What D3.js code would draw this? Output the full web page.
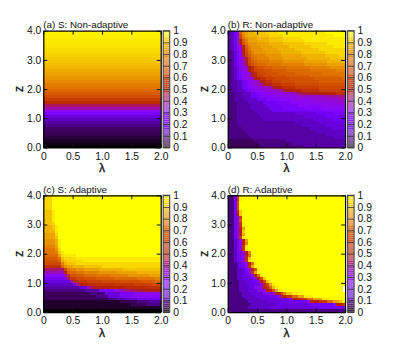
<!DOCTYPE html>
<html><head><meta charset="utf-8">
<script src="https://cdn.jsdelivr.net/npm/d3@7"></script>
<style>html,body{margin:0;padding:0;background:#fff}svg{display:block}text{font-family:"Liberation Sans",Arial,sans-serif;fill:#111}</style>
</head><body><svg id="c" width="403" height="346"></svg>
<script>
const titles = ["(a) S: Non-adaptive","(b) R: Non-adaptive","(c) S: Adaptive","(d) R: Adaptive"];
const xTicks = [0,0.5,1,1.5,2];
const xTickLabels = ["0","0.5","1.0","1.5","2.0"];
const yTicks = [0,1,2,3,4];
const barTicks = [0,0.1,0.2,0.3,0.4,0.5,0.6,0.7,0.8,0.9,1];
const nCols = 40;
// rows run from z=4 (top) to z=0 (bottom)
const rowProfileA = [.985,.98,.975,.97,.965,.96,.955,.945,.935,.925,.915,.905,.89,.875,.86,.845,.83,.81,.79,.77,.74,.71,.67,.62,.55,.44,.38,.30,.24,.17,.14,.11,.09,.07,.06,.05,.035,.025,.015,0];
// run-length rows: first char = level (base 36, level/35 = value), remainder = number of cells
const rowsB = [
"41 51 71 a1 p1 t1 u1 v2 w4 x4 y16 z7","41 51 71 a1 n1 s1 u1 v3 w4 x5 y17 z4","41 51 71 a1 m1 r1 t1 u3 v4 w5 x6 y15",
"41 51 71 b1 i1 p1 s1 u3 v4 w5 x7 y14","41 51 71 b1 i1 o1 r1 t3 u4 v5 w7 x8 y6","41 51 71 a1 c1 i1 p1 s1 t3 u4 v6 w7 x8 y4",
"41 51 71 a1 c1 i1 o1 r1 t4 u5 v6 w8 x9","31 41 61 81 b1 h1 n1 q1 s1 t4 u5 v7 w8 x7","31 41 61 81 b1 g1 m1 p1 r1 s4 t5 u7 v8 w5 x2",
"31 41 61 81 a1 c1 i1 n1 q1 r1 s4 t5 u8 v8 w5","31 41 61 81 a1 c1 h1 n1 p1 q1 r4 s5 t7 u8 v6","31 41 61 81 a1 c1 g1 m1 o1 p1 q3 r5 s8 t8 u6",
"31 41 51 71 91 b1 c1 h1 j1 n1 o2 p3 q5 r8 s7 t5","31 41 51 71 91 b1 c1 h1 j1 m1 n2 o3 p5 q8 r9 s3","31 41 51 71 91 a1 b1 c1 h1 j1 m1 n2 o4 p6 q9 r8",
"31 41 51 71 81 a1 b1 c1 h1 i1 m2 n3 o5 p8 q10 r2","31 41 51 71 81 a1 b1 c1 d1 h1 i1 k2 m3 n5 o8 p10 q1","31 42 52 71 81 a1 b1 c1 d1 h1 i1 k2 m3 n5 o8 p9",
"31 42 52 71 81 a1 b1 c1 d2 h1 i2 k3 m5 n8 o9","31 42 52 71 81 a2 b2 c2 d2 g1 h1 i2 k4 m8 n9","31 42 53 71 81 a2 b3 c3 d2 e1 g1 h2 i3 k6 m9",
"32 43 53 72 92 a3 b4 c4 e1 f1 g2 h5 i5 k3","32 43 53 73 93 a4 b6 c9 d3 e4","32 44 54 73 94 a5 b8 c8 d2","33 44 55 74 85 a6 b10 c3",
"33 45 55 75 86 a7 b9","33 45 56 75 87 96 a8","33 46 56 76 77 86 96","33 47 57 56 67 76 84","33 48 58 57 67 77","33 49 59 58 67 74",
"33 410 410 58 69","34 410 411 58 67","35 411 412 58 64","36 412 412 510","37 413 413 57","38 414 414 54","29 311 413 47","210 312 418","211 315 414"];
const rowsC = [
"x3 z37","x3 z37","x3 z37","x3 z37","x3 z37","w3 y1 z36","w3 y1 z36","w3 y1 z36","w3 y1 z36","w3 x1 z36",
"v3 w1 y1 z35","v3 w1 y1 z35","v4 y1 z35","u4 x1 z35","u4 w1 z35","t4 v1 y1 z34","t4 v1 y1 z34","s4 u1 y1 z34","r4 t1 x1 z34","r4 s1 w1 y1 z33",
"q5 u1 x1 y4 z29","p5 r1 w1 x4 y29","o5 q1 v1 w1 x5 y27","n6 s1 v1 w3 x29","k6 q1 t1 u2 v4 w6 x20","f7 n1 r1 s2 t3 u5 v8 w13",
"d7 i1 p1 q2 r3 s5 t6 u7 v8","a7 d1 k1 o2 p3 q4 r5 s6 t7 u4","88 f1 l2 n3 o4 p6 q8 r6 s2","69 d1 j2 l3 m5 n6 o7 p5 q2",
"510 71 e1 i2 j4 k6 l7 m6 n3","412 63 c1 g2 h4 i6 j7 k5","314 45 85 c4 f3 g3 h6","216 35 65 85 a4 b5","218 34 64 84 a10",
"222 33 43 54 78","126 26 34 44","130 25 35","140","040"];
const rowsD = [
"32 81 o1 y1 z35","32 81 l1 y1 z35","32 81 o1 z36","32 81 n1 z36","32 81 o1 z36","32 81 k1 w1 z35","32 81 i1 w1 z35",
"32 71 a1 l1 z35","32 71 a1 o1 z35","32 71 a1 k1 y1 z34","32 71 a1 k1 y1 z34","32 71 a1 i1 u1 z34","32 71 a1 i1 w1 z34","32 71 a1 i1 u1 z34","32 71 a1 l1 y1 z34",
"32 51 81 b1 i1 u1 z33","32 51 81 b1 i1 s1 z33","32 51 81 b1 k1 y1 z33","32 51 81 b1 l1 y1 z33",
"32 51 71 81 b1 i1 s1 z32","32 51 71 81 b1 i1 q1 y1 z31","32 51 71 81 b1 k1 w1 z32","32 51 71 81 b1 l1 y1 z32",
"33 51 71 81 b1 i1 q1 y1 z30","33 51 71 81 b1 k1 u1 z31","33 52 61 81 b1 i1 o1 y1 z29","33 52 61 81 b1 k1 u1 z30",
"33 52 61 72 b1 i1 q1 y1 z28","33 52 62 72 b1 i1 o1 w1 z27","34 52 62 72 b1 i1 n1 w1 y1 z25","34 53 62 72 b1 i1 n1 u1 y1 z24",
"34 53 62 a2 b1 i1 k1 q1 w1 y1 z22","34 53 63 a2 b1 i2 o1 u1 y2 z20","35 53 64 a3 b1 i2 n1 s1 w2 y2 z16",
"35 54 65 73 a1 i2 l2 q2 u2 y3 z11","36 55 66 74 a1 i3 l2 q2 u3 y3 z5","37 56 68 76 a1 i3 l3 q2 u2 w1 y1",
"38 58 611 79 a1 i2 l1","37 57 615 711","340"];
const paletteStops = [0,.05,.1,.15,.2,.25,.3,.35,.4,.45,.5,.6,.7,.8,.9,1];
const paletteColors = ["#000000","#38004f","#510096","#6301ce","#7202f3","#8004ff","#8c07f3","#970bce","#a11096","#ab174f","#b42000","#c63700","#d55700","#e48300","#f2ba00","#ffff00"];

const decode = rows => rows.map(r => r.split(" ").flatMap(t =>
  d3.range(+t.slice(1)).map(() => parseInt(t[0],36)/35)));
const grids = [
  rowProfileA.map(v => d3.range(nCols).map(() => v)),
  decode(rowsB), decode(rowsC), decode(rowsD)
];
const color = d3.scaleLinear().domain(paletteStops).range(paletteColors);
const svg = d3.select("#c");
const lefts = [43.3,227.7,43.3,227.7], tops = [30.7,30.7,195.3,195.3];
const W = 117.4, H = 116.8;

grids.forEach((grid,p) => {
  const g = svg.append("g").attr("transform",`translate(${lefts[p]},${tops[p]})`);
  const x = d3.scaleLinear().domain([0,2]).range([0,W]);
  const y = d3.scaleLinear().domain([0,4]).range([H,0]);
  const cx = d3.scaleBand().domain(d3.range(nCols)).range([0,W]);
  const cy = d3.scaleBand().domain(d3.range(grid.length)).range([0,H]);
  g.selectAll("g.r").data(grid).join("g").attr("class","r")
   .attr("transform",(d,i)=>`translate(0,${cy(i)})`)
   .selectAll("rect").data(d=>d).join("rect")
   .attr("x",(d,i)=>cx(i)).attr("width",cx.bandwidth()+.4).attr("height",cy.bandwidth()+.4)
   .attr("fill",d=>color(d)).attr("shape-rendering","crispEdges");

  const style = a => { a.select(".domain").attr("stroke","#000").attr("stroke-width",1.2);
    a.selectAll("line").attr("stroke","#111").attr("stroke-width",1);
    a.selectAll("text").attr("font-size",10.3).attr("font-family","Liberation Sans").attr("fill","#111"); };
  g.append("g").attr("transform",`translate(0,${H})`)
    .call(d3.axisBottom(x).tickValues(xTicks).tickSizeInner(-4).tickSizeOuter(0).tickPadding(5).tickFormat((d,i)=>xTickLabels[i])).call(style);
  g.append("g").call(d3.axisTop(x).tickValues(xTicks).tickSizeInner(-4).tickSizeOuter(0).tickFormat("")).call(style);
  g.append("g").call(d3.axisLeft(y).tickValues(yTicks).tickSizeInner(-4).tickSizeOuter(0).tickPadding(2).tickFormat(d3.format(".1f"))).call(style);
  g.append("g").attr("transform",`translate(${W},0)`).call(d3.axisRight(y).tickValues(yTicks).tickSizeInner(-4).tickSizeOuter(0).tickFormat("")).call(style);

  g.append("text").attr("x",0).attr("y",-2.5).attr("font-size",9.8).text(titles[p]);
  g.append("text").attr("x",W/2).attr("y",H+24.5).attr("text-anchor","middle").attr("font-size",12).attr("stroke","#111").attr("stroke-width",.3).text("λ");
  g.append("text").attr("transform",`translate(-20,${H/2}) rotate(-90)`).attr("text-anchor","middle").attr("font-size",12).attr("stroke","#111").attr("stroke-width",.3).text("z");

  // colour bar
  const bar = g.append("g").attr("transform",`translate(${W+2.5},0)`);
  const bw = 6.5;
  const by = d3.scaleLinear().domain([0,1]).range([H,0]);
  const levels = d3.range(0,1,1/60);
  bar.selectAll("rect").data(levels).join("rect")
    .attr("x",0).attr("width",bw).attr("y",d=>by(d+1/60)).attr("height",H/60+.5)
    .attr("fill",d=>color(d+1/120)).attr("fill-opacity",.62).attr("shape-rendering","crispEdges");
  bar.append("rect").attr("width",bw).attr("height",H).attr("fill","none").attr("stroke","#555").attr("stroke-width",1.2);
  const ba = bar.append("g").attr("transform",`translate(${bw},0)`)
    .call(d3.axisRight(by).tickValues(barTicks).tickSize(-bw).tickPadding(3.5).tickFormat(d=>String(d)));
  ba.select(".domain").remove();
  ba.selectAll("line").attr("stroke","#333").attr("stroke-opacity",.8);
  ba.selectAll("text").attr("font-size",10.3).attr("font-family","Liberation Sans").attr("fill","#111");
});
</script></body></html>
